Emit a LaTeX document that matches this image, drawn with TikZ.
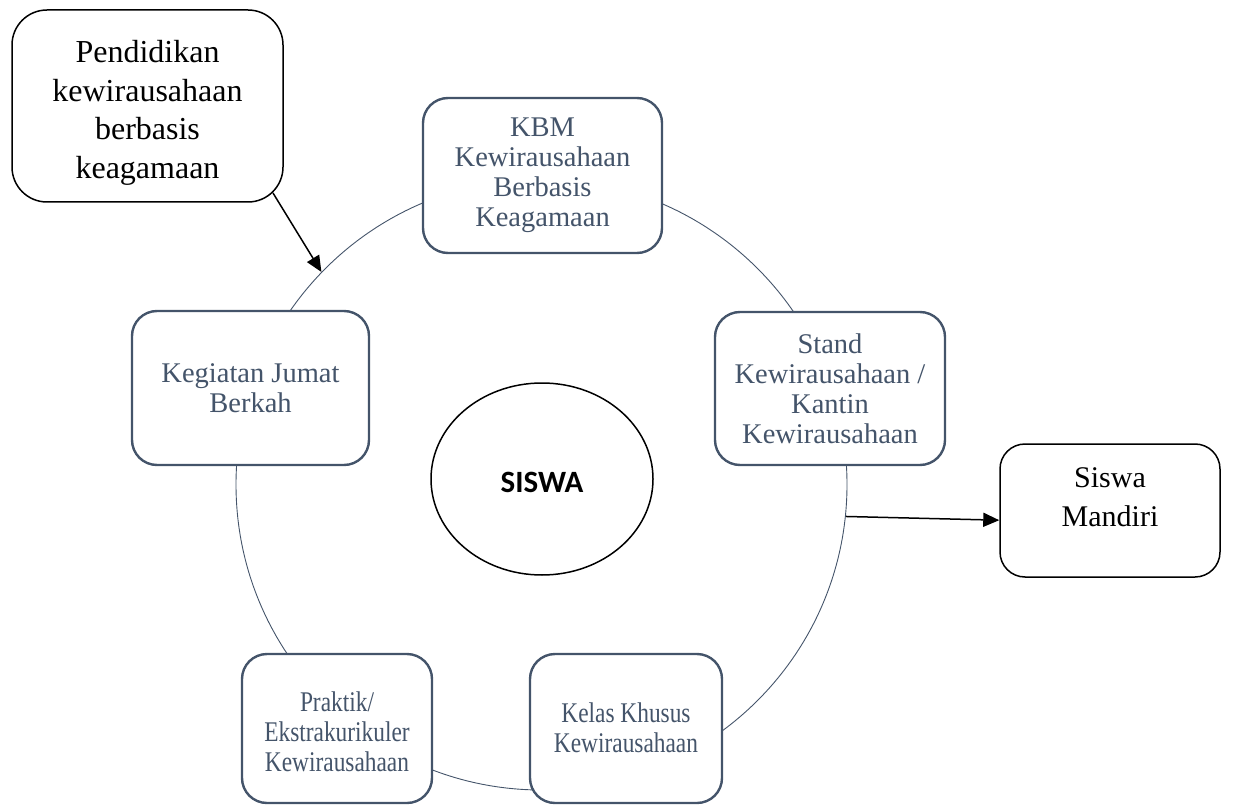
\documentclass[tikz,border=0pt]{standalone}
\usepackage{fontspec}
\setmainfont{Liberation Serif}
\newfontfamily\calibri{Carlito}
\usetikzlibrary{arrows.meta,shapes.geometric}
\definecolor{slate}{HTML}{44546A}
\begin{document}
\begin{tikzpicture}[x=1pt,y=-1pt,
  bluebox/.style={draw=slate, line width=2.4pt, rounded corners=25pt, fill=white, text=slate,
    align=center, inner sep=0pt, font={\fontsize{28.5}{30}\selectfont}},
  blackbox/.style={draw=black, line width=1.5pt, fill=white, align=center, inner sep=0pt},
  ringstyle/.style={draw=slate, line width=0.9pt, circle, inner sep=0pt},
  arr/.style={-{Triangle[length=16pt,width=14pt]}, line width=1.5pt, draw=black}
]
\useasboundingbox (0,0) rectangle (1242,805);
% ring
\node[ringstyle, minimum size=611pt] (ring) at (541.5,484.5) {};
% centre
\node[draw=black, line width=1.5pt, ellipse, fill=white, inner sep=0pt,
  minimum width=222pt, minimum height=192pt, font={\calibri\bfseries\fontsize{31}{32}\selectfont}]
  (siswa) at (542,479) {\rule{0pt}{27pt}SISWA};
% boxes on the ring
\node[bluebox, minimum width=239pt, minimum height=155pt] (kbm) at (542.5,175.5)
  {KBM\\Kewirausahaan\\Berbasis\\Keagamaan};
\node[bluebox, minimum width=230pt, minimum height=153pt] (stand) at (830,388.5)
  {Stand\\Kewirausahaan /\\Kantin\\Kewirausahaan};
\node[bluebox, minimum width=237pt, minimum height=154pt] (jumat) at (250.5,388)
  {Kegiatan Jumat\\Berkah};
\node[bluebox, minimum width=190pt, minimum height=149pt] (praktik) at (337,728.5)
  {\scalebox{0.82}[1]{\begin{tabular}{@{}c@{}}\rule{0pt}{34pt}Praktik/\\Ekstrakurikuler\\Kewirausahaan\end{tabular}}};
\node[bluebox, minimum width=192pt, minimum height=149pt] (kelas) at (626,728.5)
  {\scalebox{0.82}[1]{\begin{tabular}{@{}c@{}}\rule{0pt}{27pt}Kelas Khusus\\Kewirausahaan\end{tabular}}};
% outer boxes
\node[blackbox, rounded corners=35pt, minimum width=271pt, minimum height=192pt,
  font={\fontsize{32}{38.5}\selectfont}] (pend) at (147.5,106)
  {\rule{0pt}{36pt}Pendidikan\\kewirausahaan\\berbasis\\keagamaan};
\node[blackbox, rounded corners=25pt, minimum width=220pt, minimum height=133pt,
  font={\fontsize{30}{39}\selectfont}] (mandiri) at (1110,510.5)
  {Siswa\\Mandiri\rule[-26pt]{0pt}{26pt}};
% connectors
\coordinate (pendout) at (273,193);
\draw[arr] (pendout) -- (ring.136);
\draw[arr] (ring.-6) -- (mandiri.185.5);
\end{tikzpicture}
\end{document}
